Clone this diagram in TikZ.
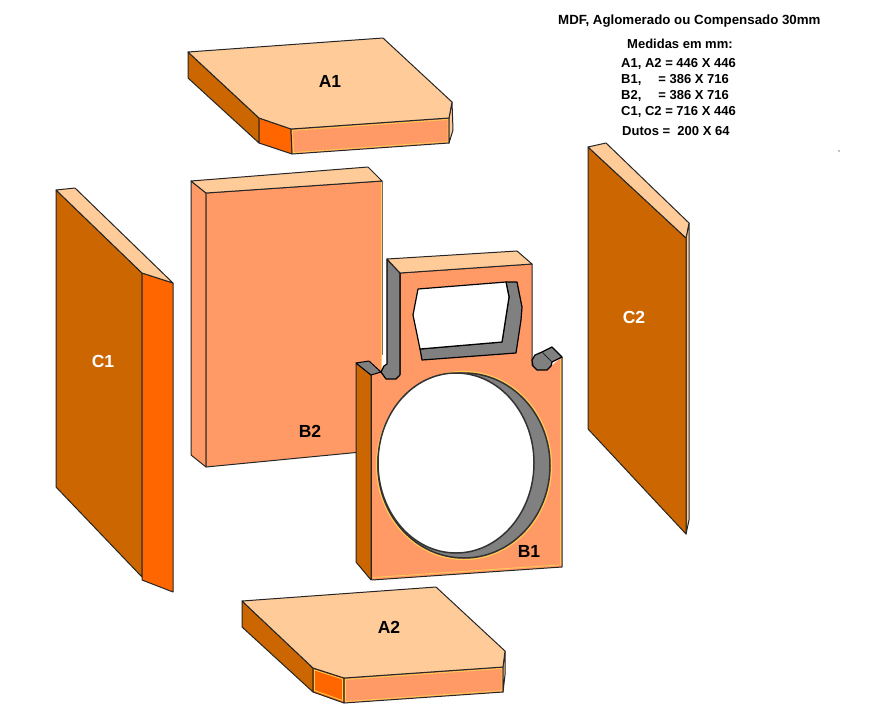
\documentclass[tikz,border=0pt]{standalone}
\usepackage{fontspec}
\setmainfont{Liberation Sans}
\definecolor{lightface}{HTML}{FFCC99}
\definecolor{frontface}{HTML}{FF9966}
\definecolor{brownface}{HTML}{CC6600}
\definecolor{sideface}{HTML}{FF6600}
\definecolor{holeface}{HTML}{808080}
\definecolor{rimline}{HTML}{FFCC55}
\tikzset{
  edge/.style={draw=black!85, line width=1pt, line join=round},
  lightpart/.style={edge, fill=lightface},
  frontpart/.style={edge, fill=frontface},
  brownpart/.style={edge, fill=brownface},
  sidepart/.style={edge, fill=sideface},
  greypart/.style={draw=black, line width=1.2pt, line join=round, fill=holeface},
  holepart/.style={draw=black, line width=1.2pt, line join=round, fill=white},
  rim/.style={draw=rimline, line width=0.8pt},
  partlabel/.style={font=\bfseries\fontsize{17.5}{19}\selectfont},
  notetext/.style={font=\bfseries\fontsize{13}{15}\selectfont, anchor=west, inner sep=0pt},
}

\begin{document}
\begin{tikzpicture}[x=1pt,y=-1pt]
  \useasboundingbox (0,0) rectangle (874,712);

  % panel A1
  \draw[brownpart] (188,52) -- (259,118) -- (259,143) -- (188,78) -- cycle;
  \draw[sidepart] (259,118) -- (291,129) -- (292,154) -- (259,143) -- cycle;
  \draw[frontpart] (291,129) -- (449,118) -- (449,143) -- (292,154) -- cycle;
  \draw[rim] (292.5,130.5) -- (448,119.5) -- (448,141.5) -- (293.5,152.5) -- cycle;
  \draw[lightpart] (452,102) -- (449,118) -- (449,143) -- (453,130) -- cycle;
  \draw[lightpart] (188,52) -- (383,38) -- (452,102) -- (449,118) -- (291,129) -- (259,118) -- cycle;
  \node[partlabel] (labelAone) at (330,81) {A1};

  % panel A2
  \draw[brownpart] (242,601) -- (313,668) -- (313,692) -- (242,627) -- cycle;
  \draw[sidepart] (313,668) -- (344,678) -- (344,703) -- (313,692) -- cycle;
  \draw[frontpart] (344,678) -- (503,667) -- (503,692) -- (344,703) -- cycle;
  \draw[rim] (345.5,679.5) -- (502,668.5) -- (502,690.5) -- (345.5,701.5) -- cycle;
  \draw[rim] (314.5,670) -- (342.5,679) -- (342.5,700.5) -- (314.5,690.5) -- cycle;
  \draw[lightpart] (505,651) -- (503,667) -- (503,692) -- (505,675) -- cycle;
  \draw[lightpart] (242,601) -- (436,587) -- (505,651) -- (503,667) -- (344,678) -- (313,668) -- cycle;
  \node[partlabel] (labelAtwo) at (389,627) {A2};

  % panel C1
  \draw[brownpart] (56,190) -- (142,273) -- (142,577) -- (56,487) -- cycle;
  \draw[sidepart] (142,273) -- (173,283) -- (173,592) -- (142,580) -- cycle;
  \draw[lightpart] (56,190) -- (75,188) -- (173,283) -- (142,273) -- cycle;
  \node[partlabel, text=white] (labelCone) at (103,361) {C1};

  % panel C2
  \draw[lightpart] (689,223) -- (686,238) -- (686,534) -- (689,520) -- cycle;
  \draw[brownpart] (588,147) -- (686,238) -- (686,534) -- (588,429) -- cycle;
  \draw[lightpart] (588,147) -- (606,143) -- (689,223) -- (686,238) -- cycle;
  \node[partlabel, text=white] (labelCtwo) at (634,317) {C2};

  % panel B2
  \draw[frontpart] (191,181) -- (206,193) -- (206,467) -- (191,455) -- cycle;
  \draw[frontpart] (206,193) -- (382,181) -- (382,450) -- (206,467) -- cycle;
  \draw[rimline, line width=0.8pt] (381,182) -- (381,449);
  \draw[lightpart] (191,181) -- (368,167) -- (382,181) -- (206,193) -- cycle;
  \node[partlabel] (labelBtwo) at (310,431) {B2};

  % panel B1, neck with duct
  \fill[white] (382,355) rectangle (400,380);
  \draw[frontpart] (400,273) -- (532,264) -- (532,368) -- (400,380) -- cycle;
  \draw[greypart] (387,259) -- (400,273) -- (400,375) -- (396,379) -- (386,379)
    -- (381,372) -- (384,366) -- (387,364) -- cycle;
  \draw[lightpart] (387,259) -- (517,251) -- (532,264) -- (400,273) -- cycle;
  \draw[greypart] (506,282) -- (517,282) -- (522,307) -- (521,320) -- (516,353)
    -- (422,360) -- (420,349) -- (502,342) -- (509,297) -- cycle;
  \draw[holepart] (418,289) -- (506,282) -- (509,297) -- (502,342) -- (420,349) -- (413,315) -- cycle;

  % panel B1, body
  \draw[brownpart] (356,363) -- (371,375) -- (371,580) -- (356,562) -- cycle;
  \fill[frontface] (371,376) -- (381,373) -- (386,379) -- (396,379) -- (400,375) -- (532,366)
    -- (537,370) -- (547,370) -- (551,366) -- (562,357) -- (562,567) -- (372,580) -- cycle;
  \draw[edge] (372,580) -- (562,567) -- (562,357);
  \draw[edge] (371,375) -- (371,580);
  \draw[rimline, line width=0.8pt] (560.5,359) -- (560.5,565);
  \draw[rimline, line width=0.8pt] (373,577.5) -- (559,565);
  \draw[greypart, line width=1pt] (356,363) -- (369,361) -- (381,372) -- (371,375) -- cycle;
  \draw[greypart] (532,360) -- (535,355) -- (542,352) -- (552,347) -- (562,357) -- (552,362)
    -- (551,366) -- (547,370) -- (537,370) -- (533,366) -- cycle;
  \draw[edge] (542,352) -- (552,362);
  \draw[greypart] (381,372) -- (386,379) -- (396,379) -- (400,375);

  % round hole
  \draw[rimline, line width=1.2pt] (464,465.5) ellipse [x radius=87.5, y radius=94];
  \draw[greypart, draw=black!80, line width=1.5pt] (464,465.5) ellipse [x radius=86, y radius=92.5];
  \draw[holepart, draw=black!80, line width=1.5pt] (456,463) ellipse [x radius=78, y radius=90];
  \node[partlabel] (labelBone) at (529,551) {B1};

  % notes
  \node[notetext, font=\bfseries\fontsize{13.3}{15}\selectfont] (title) at (558,21) {MDF, Aglomerado ou Compensado 30mm};
  \node[notetext] (sizes) at (627,44) {Medidas em mm:};
  \node[notetext] (sizeA) at (621,64) {A1, A2 = 446 X 446};
  \node[notetext] (sizeBone) at (621,80) {B1,\hspace{17pt}= 386 X 716};
  \node[notetext] (sizeBtwo) at (621,96) {B2,\hspace{17pt}= 386 X 716};
  \node[notetext] (sizeC) at (621,112) {C1, C2 = 716 X 446};
  \node[notetext] (sizeD) at (622,131) {Dutos =\ \ 200 X 64};
  \fill (839,151) circle (0.7);
\end{tikzpicture}
\end{document}
